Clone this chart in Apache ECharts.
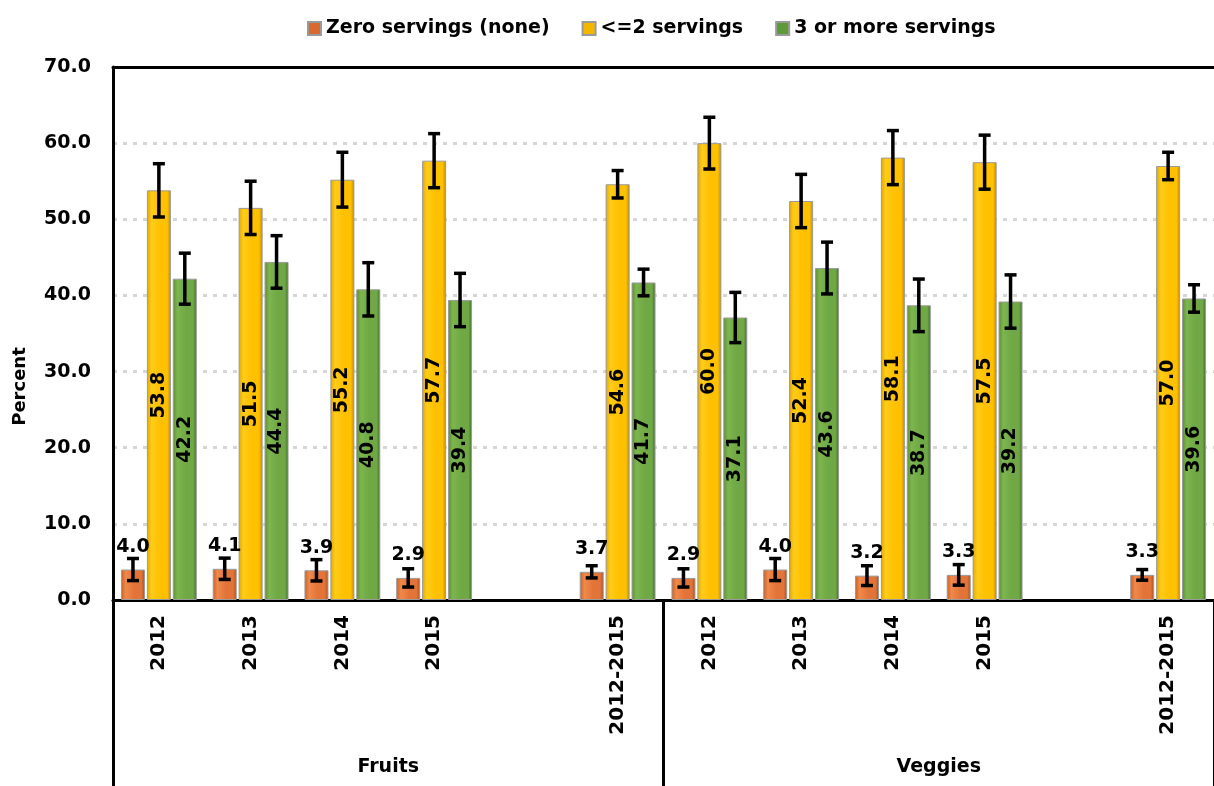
<!DOCTYPE html>
<html>
<head>
<meta charset="utf-8">
<script src="https://cdn.jsdelivr.net/npm/echarts@6/dist/echarts.min.js"></script>
<style>html,body{margin:0;padding:0;background:#fff;}#c{width:1214px;height:786px;}</style>
</head>
<body>
<div id="c"></div>
<script>
const categories = ['2012','2013','2014','2015','','2012-2015','2012','2013','2014','2015','','2012-2015'];
const groups = ['Fruits','Veggies'];
const seriesNames = ['Zero servings (none)','<=2 servings','3 or more servings'];
const zeroVals = [4.0,4.1,3.9,2.9,null,3.7,2.9,4.0,3.2,3.3,null,3.3];
const le2Vals  = [53.8,51.5,55.2,57.7,null,54.6,60.0,52.4,58.1,57.5,null,57.0];
const ge3Vals  = [42.2,44.4,40.8,39.4,null,41.7,37.1,43.6,38.7,39.2,null,39.6];
const zeroErr  = [1.45,1.4,1.4,1.2,null,0.8,1.2,1.45,1.3,1.35,null,0.7];
const le2Err   = [3.5,3.5,3.6,3.55,null,1.8,3.4,3.5,3.55,3.55,null,1.8];
const ge3Err   = [3.35,3.45,3.5,3.5,null,1.75,3.3,3.4,3.45,3.5,null,1.8];
const yTicks = {min:0, max:70, interval:10};

const FONT = '"DejaVu Sans", sans-serif';
const BAR_W = 24, BAR_GAP = 0.08;

function grad(dark, light, base, dark2){
  return new echarts.graphic.LinearGradient(0,0,1,0,[
    {offset:0,color:dark},{offset:0.2,color:light},{offset:0.55,color:base},{offset:0.85,color:base},{offset:1,color:dark2}
  ]);
}
const colors = [
  grad('#c45f26','#f0894a','#e2743a','#a94c17'),
  grad('#e0a800','#ffcc1a','#ffc000','#b98a00'),
  grad('#5c8e35','#7db64e','#6fa845','#41692a')
];
const legendColors = ['#d8692f','#f2b800','#5f9a3a'];

const valsList = [zeroVals, le2Vals, ge3Vals];
const errList = [zeroErr, le2Err, ge3Err];
const errData = [];
valsList.forEach((vals, s) => {
  vals.forEach((v, i) => { if (v != null) errData.push([i, s, v, errList[s][i]]); });
});

const labelCommon = {show:true, color:'#000', fontFamily:FONT, fontWeight:'bold', fontSize:19,
  formatter: p => p.value == null ? '' : Number(p.value).toFixed(1)};

const barSeries = valsList.map((vals, s) => ({
  name: seriesNames[s], type:'bar', xAxisIndex:0, yAxisIndex:0,
  data: vals, barWidth: BAR_W, barGap: (BAR_GAP*100)+'%',
  itemStyle: {color: colors[s], borderColor:'#9a9a9a', borderWidth:1},
  label: s === 0 ? Object.assign({position:'top', distance:13}, labelCommon)
                 : Object.assign({position:'inside', rotate:90}, labelCommon),
  z: 2
}));

const errSeries = {
  type:'custom', xAxisIndex:0, yAxisIndex:0, data: errData, z: 5, silent:true,
  renderItem: function(params, api){
    const x = api.value(0), s = api.value(1), v = api.value(2), e = api.value(3);
    const off = (s - 1) * (BAR_W * (1 + BAR_GAP));
    const t = api.coord([x, v + e]);
    const b = api.coord([x, v - e]);
    const cx = t[0] + off, cap = 6;
    const st = {stroke:'#000', lineWidth:3.5};
    return {type:'group', children:[
      {type:'line', shape:{x1:cx, y1:t[1], x2:cx, y2:b[1]}, style:st},
      {type:'line', shape:{x1:cx-cap, y1:t[1], x2:cx+cap, y2:t[1]}, style:st},
      {type:'line', shape:{x1:cx-cap, y1:b[1], x2:cx+cap, y2:b[1]}, style:st}
    ]};
  }
};

const chart = echarts.init(document.getElementById('c'), null, {renderer:'canvas'});
chart.setOption({
  animation:false,
  backgroundColor:'#fff',
  legend:{
    data: seriesNames.map((n,i)=>({name:n, itemStyle:{color:legendColors[i]}})),
    left: 302, top: 14, icon:'rect', itemWidth:13, itemHeight:13, itemGap:32,
    textStyle:{fontFamily:FONT, fontWeight:'bold', fontSize:19, color:'#000'}
  },
  grid:{left:113, right:0, top:67, bottom:186, containLabel:false},
  xAxis:[
    {type:'category', data:categories, position:'bottom',
     axisLine:{show:true, lineStyle:{color:'#000', width:3}},
     axisTick:{show:false},
     axisLabel:{interval:0, rotate:90, margin:15, color:'#000', fontFamily:FONT, fontWeight:'bold', fontSize:20}},
    {type:'category', data:groups, position:'bottom', offset:0,
     axisLine:{show:false},
     axisTick:{show:true, length:186, lineStyle:{color:'#000', width:3}},
     axisLabel:{interval:0, margin:158, color:'#000', fontFamily:FONT, fontWeight:'bold', fontSize:19}},
    {type:'category', data:categories, position:'top',
     axisLine:{show:true, lineStyle:{color:'#000', width:3}},
     axisTick:{show:false}, axisLabel:{show:false}}
  ],
  yAxis:{
    type:'value', min:yTicks.min, max:yTicks.max, interval:yTicks.interval,
    name:'Percent', nameLocation:'middle', nameGap:84,
    nameTextStyle:{fontFamily:FONT, fontWeight:'bold', fontSize:18, color:'#000', padding:[0,106,0,0]},
    axisLine:{show:true, lineStyle:{color:'#000', width:3}},
    axisTick:{show:false},
    axisLabel:{margin:22, color:'#000', fontFamily:FONT, fontWeight:'bold', fontSize:19,
      formatter: v => v.toFixed(1)},
    splitLine:{show:true, lineStyle:{color:'#d6d6d6', width:3, type:[4,6]}}
  },
  series: barSeries.concat([errSeries])
});
</script>
</body>
</html>
